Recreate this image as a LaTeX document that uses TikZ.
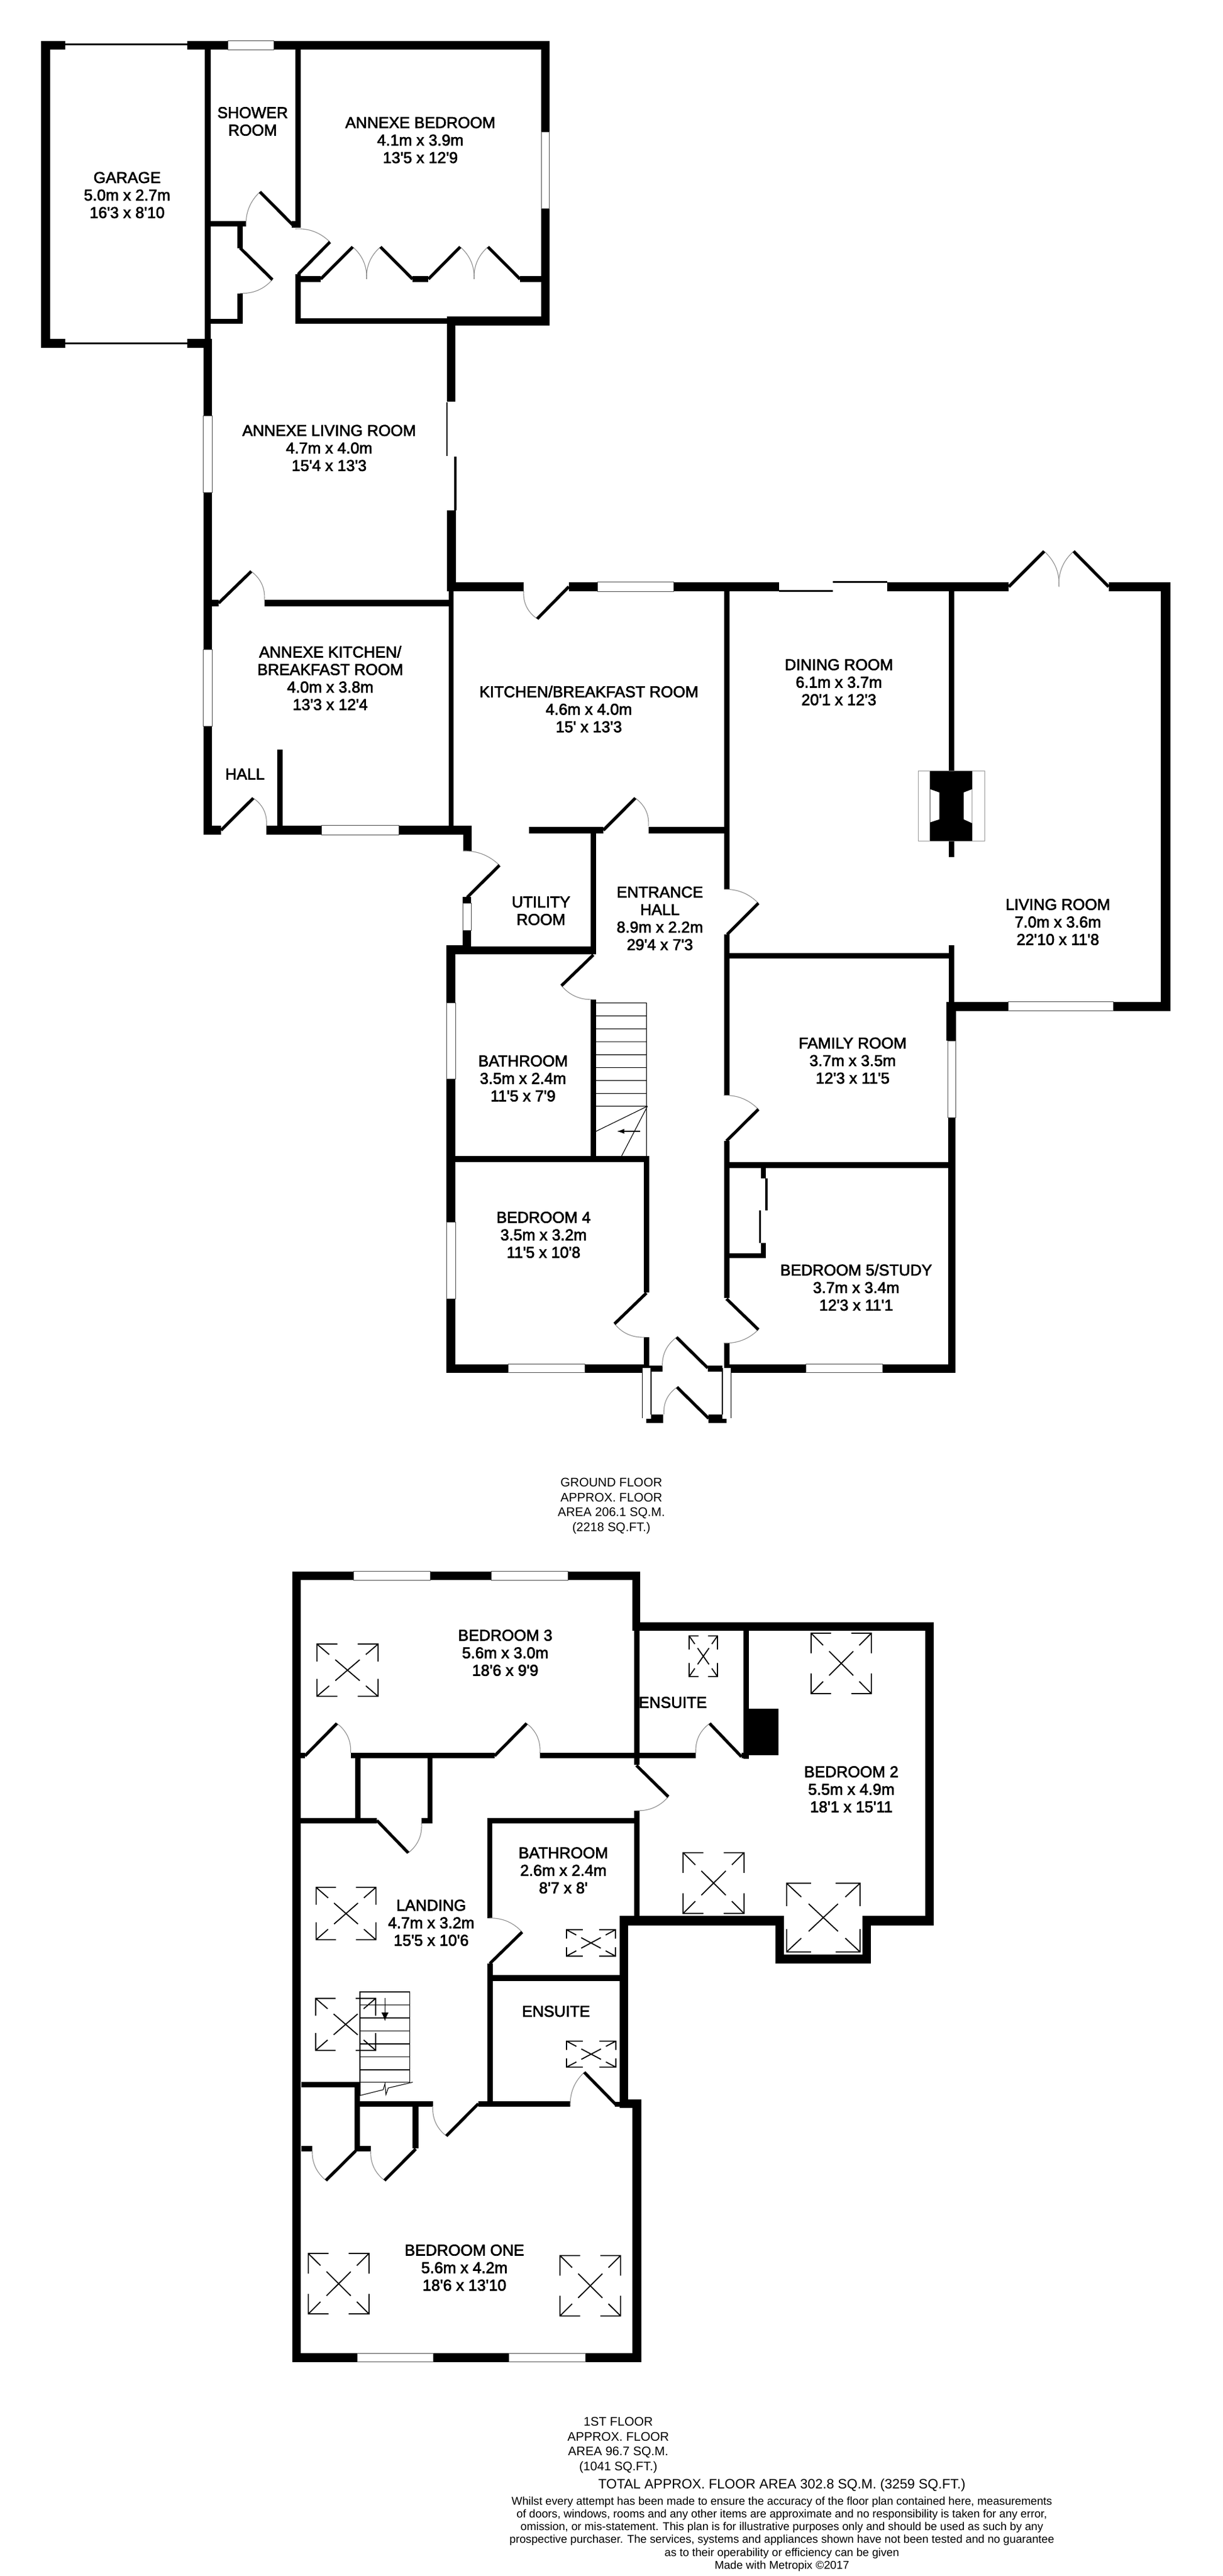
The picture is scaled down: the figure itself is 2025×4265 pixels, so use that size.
\documentclass[tikz,border=0pt]{standalone}
\usepackage{fontspec}
\setmainfont{Liberation Sans}
\newfontfamily\roomfont[FakeBold=2.5]{Liberation Sans}
\usetikzlibrary{calc,arrows.meta}
\tikzset{
  roomlabel/.style={font=\roomfont\fontsize{26}{29}\selectfont,align=center,inner sep=0pt,text=black},
  floornote/.style={font=\fontsize{20.6}{24.6}\selectfont,align=center,inner sep=0pt,text=black},
  totalnote/.style={font=\fontsize{22.5}{24.6}\selectfont,align=center,inner sep=0pt,text=black},
  finenote/.style={font=\fontsize{18.7}{21.1}\selectfont,align=center,inner sep=0pt,text=black},
  swingarc/.style={draw=black!45,line width=1.1pt},
  doorleaf/.style={draw=black,line width=5pt,line cap=butt},
  winframe/.style={fill=white,draw=black!70,line width=1pt},
  skyline/.style={draw=black,line width=1.8pt},
  treadline/.style={draw=black,line width=1.1pt},
}
\def\WL(#1,#2,#3,#4){\fill[black] (#1,#2) rectangle (#3,#4);}
\def\WN(#1,#2,#3,#4){\path[winframe] (#1,#2) rectangle (#3,#4);}
\def\DR(#1,#2,#3,#4,#5,#6){%
  \coordinate (sH) at (#1,#2);\coordinate (sT) at (#3,#4);\coordinate (sE) at (#5,#6);
  \coordinate (sC) at ($(sH)!1.2!($(sT)!0.5!(sE)$)$);
  \draw[swingarc] (sT) .. controls ($(sT)!0.667!(sC)$) and ($(sE)!0.667!(sC)$) .. (sE);
  \draw[doorleaf] (sH) -- (sT);}
\def\SKY(#1,#2,#3,#4){%
  \pgfmathsetmacro{\skw}{#3-#1}\pgfmathsetmacro{\skh}{#4-#2}
  \begin{scope}[shift={(#1,#2)},x=\skw pt,y=-\skh pt]
   \draw[skyline,line cap=butt] (0,.333)--(0,0)--(.333,0) (.667,0)--(1,0)--(1,.333)
     (1,.667)--(1,1)--(.667,1) (.333,1)--(0,1)--(0,.667)
     (0,0)--(.2,.2) (.3,.3)--(.7,.7) (.8,.8)--(1,1)
     (1,0)--(.8,.2) (.7,.3)--(.3,.7) (.2,.8)--(0,1);
  \end{scope}}
\begin{document}
\begin{tikzpicture}[x=1pt,y=-1pt]
\useasboundingbox (0,0) rectangle (2025,4265);
\fill[white] (0,0) rectangle (2025,4265);
%% ---------- GROUND FLOOR walls
\WL(67.7,67.7,107.7,82.4)
\WL(67.7,67.7,82.5,575.7)
\WL(67.7,561.4,107.7,575.7)
\WL(107.7,71.8,310,75.2)
\WL(107.7,566.9,310,570.3)
\WL(310,67.7,909.7,82.4)
\WL(310,561.4,351,575.7)
\WL(339,82,349,561.4)
\WL(336.5,561.4,351,1382)
\WL(489,82,498,377)
\WL(483,366,498,377)
\WL(349,366,407,375)
\WL(392.5,375,401.7,410.5)
\WL(392.5,485.5,401.7,536.4)
\WL(349,527.5,401.7,536.4)
\WL(489,454,498,536.4)
\WL(489,527,740,536.4)
\WL(740,524.4,909.7,538.7)
\WL(896,67.7,909.7,538.7)
\WL(498,457.4,531,467.2)
\WL(683,457.4,709.4,467.2)
\WL(861,457.4,896,467.2)
\WL(740,538,754,665)
\WL(738.6,666,741,755)
\WL(752.4,756,756,845)
\WL(740,845,754.6,979)
\WL(740,963.8,867,979)
\WL(941.8,963.8,1289.8,979)
\WL(1289.8,976.5,1379.3,980)
\WL(1379.3,962.2,1468.7,965.3)
\WL(1468.7,963.8,1670.3,979)
\WL(1835.6,963.8,1937.5,979)
\WL(1922.4,963.8,1937.5,1673.5)
\WL(1567,1658.7,1937.5,1673.5)
\WL(351,993.4,362,1003.6)
\WL(437.8,993.4,743,1003.6)
\WL(742.6,979,751.2,1367)
\WL(441.2,1366.8,781,1382)
\WL(336.7,1366.8,366,1382)
\WL(459,1240.8,468,1368)
\WL(766.7,1366.8,781,1409)
\WL(766,1485,780.4,1575)
\WL(739,1565,780,1579.6)
\WL(754,1566.8,987,1579.6)
\WL(977.8,1375.5,987,1579.6)
\WL(875.7,1369,998.5,1380)
\WL(1074,1369,1198.8,1380)
\WL(1198.8,979,1207.5,1472.4)
\WL(1198.8,1547,1207.5,1813.6)
\WL(1198.8,1889,1207.5,2148.5)
\WL(1198.8,2223.7,1207.5,2272.8)
\WL(1207.5,1577.6,1570.6,1586.7)
\WL(1570.6,979,1580,1276.5)
\WL(1570.6,1392,1580,1419)
\WL(1570.6,1564.8,1580,1659)
\WL(1567,1659,1582.5,1723)
\WL(1569.7,1723,1582.3,2272.8)
\WL(1207.5,1924,1570,1933.5)
\WL(1259.7,1933.5,1268.3,1950.8)
\WL(1267,1950.8,1270.6,2003.7)
\WL(1257,2003.7,1259.7,2058)
\WL(1259.7,2058,1268.3,2083.4)
\WL(1207.5,2074.5,1268.3,2083.4)
\WL(1207.5,2258.8,1582.3,2272.8)
\WL(739,1565,754,2272.8)
\WL(739,2258.8,1074.9,2272.8)
\WL(1065.7,1914.4,1074.9,2139.5)
\WL(1065.7,2214,1074.9,2259)
\WL(977.8,1654.8,987,1914.4)
\WL(754,1914.4,1074.9,1924)
\WL(1075,2260.7,1096.7,2270.7)
\WL(1171.7,2260.7,1195.7,2270.7)
\WL(1078.3,2341.7,1098.3,2356)
\WL(1070,2349,1098.3,2356)
\WL(1173.3,2341.7,1195.7,2356)
\WL(1173.3,2349,1202.7,2356)
%% fireplace
\draw[draw=black!40,line width=1.1pt] (1520.7,1276.5) rectangle (1630.2,1392.3) (1540,1276.5)--(1540,1392.3) (1609.6,1276.5)--(1609.6,1392.3);
\fill[black] (1540,1276.5)--(1609.6,1276.5)--(1609.6,1306.6)--(1595.5,1312)--(1595.5,1356.6)--(1609.6,1363)--(1609.6,1392.3)--(1540,1392.3)--(1540,1361.7)--(1555.4,1356.6)--(1555.4,1312)--(1540,1306.6)--cycle;
%% windows ground
\WN(377.5,67.7,453.3,82.4)
\WN(896,218.6,909.7,345.8)
\WN(336.8,688,351,815)
\WN(336.8,1075.5,351,1202.5)
\WN(989,963.8,1115.7,979)
\WN(1669,1658.7,1843.8,1673.5)
\WN(532.5,1366.8,660.5,1382)
\WN(766,1495.4,780.4,1540)
\WN(1569.7,1723,1582.3,1850.6)
\WN(1334.3,2258.8,1461,2272.8)
\WN(739,1660.6,754,1786.9)
\WN(739,2023.5,754,2150.4)
\WN(841.2,2258.8,968,2272.8)
%% porch side windows
\fill[white] (1063.3,2265) rectangle (1078.3,2348);
\fill[white] (1195.7,2265) rectangle (1210.7,2348);
\draw[black,line width=1.4pt] (1063.5,2265)--(1063.5,2348) (1078,2265)--(1078,2342) (1196,2265)--(1196,2342) (1210.5,2265)--(1210.5,2348);
%% doors ground
\DR(485,372.6,430.4,317.7,407.4,375)
\DR(493.5,454.3,546.3,400.7,489,379)
\DR(397.6,410.5,451,463,397.6,485.5)
\DR(531,462,584,408.8,607,462)
\DR(683,462,630,408.8,607,462)
\DR(709.4,462,762,408.8,785,462)
\DR(861,462,808,408.8,785,462)
\DR(362,998.5,416,946,437.8,993.4)
\DR(366,1374.5,419.4,1321.4,441.2,1366.8)
\DR(941.8,971.4,889.5,1024.5,867,979)
\DR(773.6,1485.7,827,1432.6,766.7,1409)
\DR(999,1374.5,1052,1321.4,1073.8,1368)
\DR(1670.3,971.4,1728.9,912.8,1753.3,971.4)
\DR(1835.6,971.4,1777.6,912.8,1753.3,971.4)
\DR(1204,1547,1255.7,1495.4,1198.8,1472.4)
\DR(1202.9,1889,1255.7,1836.6,1198.3,1813.6)
\DR(1202.9,2150.4,1255.7,2201.4,1198.3,2223.7)
\DR(1070.3,2140.8,1017.5,2191.8,1067.4,2214)
\DR(982.4,1581,929.6,1632,981.3,1654.8)
\DR(1171.9,2265,1120.2,2214,1096.7,2262)
\DR(1173.3,2348.3,1121,2296.7,1099.3,2341.7)
%% stairs ground
\draw[treadline] (987,1660.6)--(1070.3,1660.6)--(1070.3,1914.4)
  (987,1682)--(1070.3,1682) (987,1703.4)--(1070.3,1703.4) (987,1724.8)--(1070.3,1724.8)
  (987,1746.2)--(1070.3,1746.2) (987,1767.6)--(1070.3,1767.6) (987,1789)--(1070.3,1789)
  (987,1810.4)--(1070.3,1810.4) (987,1831.5)--(1072,1831.5)
  (987,1873)--(1072,1831.5) (1029,1914.4)--(1072,1831.5);
\draw[treadline,-{Latex[length=12pt,width=8pt]}] (1060,1873)--(1021.5,1873);
%% ---------- FIRST FLOOR walls
\WL(483.7,2601.8,1060.4,2616)
\WL(483.7,2601.8,498.4,3910.5)
\WL(1046.5,2601.8,1060.4,2698.8)
\WL(1046.5,2685.5,1546,2699.8)
\WL(1532,2685.5,1546,3187.5)
\WL(1050,2699,1059,2922)
\WL(1231.4,2699,1240,2912)
\WL(1231,2829,1288.6,2906)
\WL(580.6,2901.8,819,2911)
\WL(894,2901.8,1152,2911)
\WL(498,2901.8,505,2911)
\WL(1227.7,2901.8,1240,2911)
\WL(1050,2998,1059,3175)
\WL(1025.5,3172.3,1298.3,3187.5)
\WL(1284,3172.3,1298.3,3251)
\WL(1284,3235.7,1442,3251)
\WL(1428,3172.3,1442,3251)
\WL(1428,3172.3,1546,3187.5)
\WL(1025.5,3172.3,1039.5,3490)
\WL(1025.5,3476,1061.5,3490)
\WL(1047,3476,1061.5,3910.5)
\WL(806.6,3010,1050,3019)
\WL(806.6,3010,815.4,3175.8)
\WL(806.6,3251,815.7,3488)
\WL(815.7,3270.3,1025.5,3280)
\WL(792,3478.5,944.2,3488)
\WL(1018,3480,1025.5,3488)
\WL(596,3478.5,716.6,3488)
\WL(586.8,3447,596,3561)
\WL(498.5,3447,596,3456)
\WL(498.5,3552.6,517,3562)
\WL(589,3552.6,613.8,3562)
\WL(683.4,3488,693,3556.5)
\WL(588,2911,596.7,3011.5)
\WL(708,2911,716.3,3019)
\WL(498,3010,624,3019)
\WL(698,3010,716.3,3019)
\WL(484,3896,1061.5,3910.5)
%% windows first
\WN(585,2601.8,712,2616)
\WN(813,2601.8,940,2616)
\WN(591,3896,717.8,3910.5)
\WN(842.6,3896,969,3910.5)
%% doors first
\DR(505,2907,557.9,2853.4,580.6,2902)
\DR(819,2907,872,2853.4,894,2902)
\DR(1227.7,2908.5,1175,2853.4,1152,2902)
\DR(1053.8,2923,1106.6,2974.8,1053.8,2997.8)
\DR(624,3014,676,3067.7,698,3019)
\DR(811,3251,864.5,3198.8,809.5,3175.8)
\DR(1020,3484.7,967.4,3431,944.2,3487)
\DR(792,3483,739,3536.4,716.6,3487)
\DR(589,3561,539.6,3610,517,3561)
\DR(688.4,3558,636.6,3610,613.8,3561)
%% skylights
\SKY(524.8,2722,626,2808.5)
\SKY(1141,2708.5,1188,2775.8)
\SKY(1343,2704,1442.7,2804)
\SKY(1131,3067.4,1232,3168)
\SKY(1302.4,3118,1424,3231.7)
\SKY(938,3195,1019,3238.6)
\SKY(523.4,3124.8,622.4,3211.5)
\SKY(522.6,3308.6,622,3394.7)
\SKY(938,3379.4,1019.6,3422.5)
\SKY(510.5,3731,610.9,3831)
\SKY(927.2,3734.4,1027.5,3834.4)
%% stairs first
\draw[treadline] (596,3469.4)--(596,3298)--(678.9,3298)--(678.9,3447.8)
  (596,3319.6)--(678.9,3319.6) (596,3341)--(678.9,3341) (596,3362.7)--(678.9,3362.7)
  (596,3384)--(678.9,3384) (596,3405.7)--(678.9,3405.7) (596,3427)--(678.9,3427) (596,3447.8)--(678.9,3447.8);
\draw[treadline] (596,3469.4)--(634.5,3459.8)--(637.4,3449.8)--(639,3468)--(642.8,3457)--(683.4,3447.4);
\draw[treadline,-{Latex[length=14pt,width=12pt]}] (637.4,3307.7)--(637.4,3346);
%% ---------- labels
\node[roomlabel] (garage) at (210.5,323) {GARAGE\\5.0m x 2.7m\\16'3 x 8'10};
\node[roomlabel] (shower) at (418.3,201) {SHOWER\\ROOM};
\node[roomlabel] (annexebed) at (696,232) {ANNEXE BEDROOM\\4.1m x 3.9m\\13'5 x 12'9};
\node[roomlabel] (annexeliv) at (545,741.8) {ANNEXE LIVING ROOM\\4.7m x 4.0m\\15'4 x 13'3};
\node[roomlabel] (annexekit) at (546.8,1122.7) {ANNEXE KITCHEN/\\BREAKFAST ROOM\\4.0m x 3.8m\\13'3 x 12'4};
\node[roomlabel] (hall) at (405.6,1281.6) {HALL};
\node[roomlabel] (kitchen) at (975,1174) {KITCHEN/BREAKFAST ROOM\\4.6m x 4.0m\\15' x 13'3};
\node[roomlabel] (utility) at (895.8,1508) {UTILITY\\ROOM};
\node[roomlabel] (entrance) at (1092.6,1520.5) {ENTRANCE\\HALL\\8.9m x 2.2m\\29'4 x 7'3};
\node[roomlabel] (bathg) at (866,1785.5) {BATHROOM\\3.5m x 2.4m\\11'5 x 7'9};
\node[roomlabel] (bed4) at (900,2044.5) {BEDROOM 4\\3.5m x 3.2m\\11'5 x 10'8};
\node[roomlabel] (family) at (1411.8,1756) {FAMILY ROOM\\3.7m x 3.5m\\12'3 x 11'5};
\node[roomlabel] (bed5) at (1417.6,2131.5) {BEDROOM 5/STUDY\\3.7m x 3.4m\\12'3 x 11'1};
\node[roomlabel] (dining) at (1389,1129.5) {DINING ROOM\\6.1m x 3.7m\\20'1 x 12'3};
\node[roomlabel] (living) at (1751.6,1526.5) {LIVING ROOM\\7.0m x 3.6m\\22'10 x 11'8};
\node[floornote] (groundnote) at (1012.3,2493.5) {GROUND FLOOR\\APPROX. FLOOR\\AREA 206.1 SQ.M.\\(2218 SQ.FT.)};
\node[roomlabel] (bed3) at (836.6,2736.5) {BEDROOM 3\\5.6m x 3.0m\\18'6 x 9'9};
\node[roomlabel] (ens1) at (1114,2818.7) {ENSUITE};
\node[roomlabel] (bed2) at (1409.6,2962.5) {BEDROOM 2\\5.5m x 4.9m\\18'1 x 15'11};
\node[roomlabel] (bathf) at (932.8,3096.7) {BATHROOM\\2.6m x 2.4m\\8'7 x 8'};
\node[roomlabel] (landing) at (714,3183.5) {LANDING\\4.7m x 3.2m\\15'5 x 10'6};
\node[roomlabel] (ens2) at (920.6,3330) {ENSUITE};
\node[roomlabel] (bed1) at (769,3754.5) {BEDROOM ONE\\5.6m x 4.2m\\18'6 x 13'10};
\node[floornote] (firstnote) at (1023.7,4048.5) {1ST FLOOR\\APPROX. FLOOR\\AREA 96.7 SQ.M.\\(1041 SQ.FT.)};
\node[totalnote] (totalnote) at (1294.6,4115) {TOTAL APPROX. FLOOR AREA 302.8 SQ.M. (3259 SQ.FT.)};
\node[finenote] (disclaimer) at (1294.6,4195.5) {Whilst every attempt has been made to ensure the accuracy of the floor plan contained here, measurements\\of doors, windows, rooms and any other items are approximate and no responsibility is taken for any error,\\omission, or mis-statement. This plan is for illustrative purposes only and should be used as such by any\\prospective purchaser. The services, systems and appliances shown have not been tested and no guarantee\\as to their operability or efficiency can be given\\Made with Metropix \textcopyright2017};
\end{tikzpicture}
\end{document}
